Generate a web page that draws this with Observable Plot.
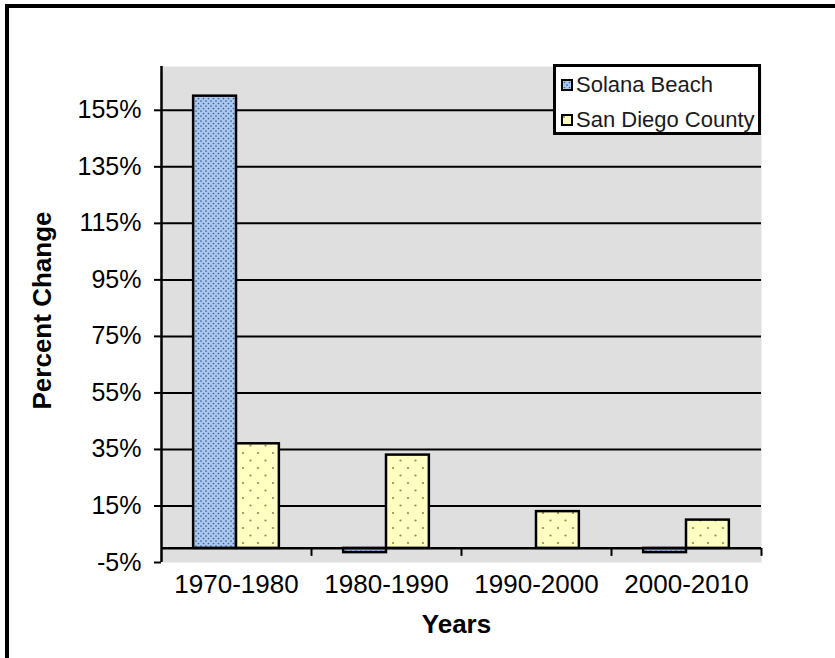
<!DOCTYPE html>
<html>
<head>
<meta charset="utf-8">
<script src="https://cdn.jsdelivr.net/npm/d3@7"></script>
<script src="https://cdn.jsdelivr.net/npm/@observablehq/plot@0.6"></script>
<style>
  html, body { margin: 0; padding: 0; background: #fff; overflow: hidden; }
  body { width: 835px; height: 658px; position: relative; font-family: "Liberation Sans", Arial, sans-serif; }
  #frame { position: absolute; left: 5px; top: 4px; width: 900px; height: 720px;
           border-top: 4px solid #000; border-left: 4px solid #000; box-sizing: border-box; }
  #chart { position: absolute; left: 0; top: 0; }
  #legend { position: absolute; left: 553px; top: 64px; width: 208px; height: 71px;
            box-sizing: border-box; border: 3px solid #000; background: #fff; }
  .item { position: absolute; left: 5px; display: flex; align-items: center; font-size: 22px; color: #1a1a1a; white-space: nowrap; }
  .item svg { margin-right: 3px; }
</style>
</head>
<body>
<div id="frame"></div>
<div id="chart"></div>
<div id="legend"></div>
<script>
// Population change per decade, in percent
const periods = ["1970-1980", "1980-1990", "1990-2000", "2000-2010"];
const seriesNames = ["Solana Beach", "San Diego County"];
const solanaBeach = [160, -1.5, 0, -1.5];
const sanDiegoCounty = [37, 33, 13, 10];
const yTicks = [-5, 15, 35, 55, 75, 95, 115, 135, 155];

const W = 835, H = 658;
const margin = {top: 66, right: 74, bottom: 96, left: 161};
const yDomain = [-5, 170.5];
const step = (W - margin.left - margin.right) / periods.length;
const barW = step / 3.5;            // two bars plus a 150% gap
const zeroOffset = (0 - yDomain[0]) / (yDomain[1] - yDomain[0]) * (H - margin.top - margin.bottom);

const rows = (values) => periods.map((p, i) => ({period: p, value: values[i]})).filter(d => d.value !== 0);

const chart = Plot.plot({
  width: W,
  height: H,
  marginTop: margin.top,
  marginRight: margin.right,
  marginBottom: margin.bottom,
  marginLeft: margin.left,
  style: {fontFamily: "'Liberation Sans', Arial, sans-serif", color: "#000", background: "transparent"},
  x: {domain: periods, padding: 0, label: null},
  y: {domain: yDomain, label: null},
  marks: [
    Plot.frame({fill: "#dfdfdf", stroke: null}),
    Plot.ruleY(yTicks.filter(t => t > 0), {stroke: "#000", strokeWidth: 2}),
    Plot.barY(rows(solanaBeach), {x: "period", y: "value", fill: "url(#dotsBlue)", stroke: "#000", strokeWidth: 2.5,
      insetLeft: 0.75 * barW, insetRight: 1.75 * barW}),
    Plot.barY(rows(sanDiegoCounty), {x: "period", y: "value", fill: "url(#dotsYellow)", stroke: "#000", strokeWidth: 2.5,
      insetLeft: 1.75 * barW, insetRight: 0.75 * barW}),
    Plot.ruleY([0], {stroke: "#000", strokeWidth: 2.5}),
    Plot.ruleX([periods[0]], {dx: -step / 2, stroke: "#000", strokeWidth: 2.5}),
    Plot.axisY({ticks: yTicks, tickFormat: d => d + "%", tickSize: 7, tickPadding: 13, fontSize: 25, strokeWidth: 2, label: null}),
    Plot.axisX({tickSize: 0, tickPadding: 12, fontSize: 26, label: null}),
    Plot.axisX({tickSize: 8, tickFormat: () => "", dx: step / 2, dy: -zeroOffset, strokeWidth: 2, label: null}),
    Plot.text(["Years"], {text: d => d, frameAnchor: "bottom", textAnchor: "middle", dx: -5, dy: 70, fontSize: 26, fontWeight: "bold"}),
    Plot.text(["Percent Change"], {text: d => d, frameAnchor: "left", textAnchor: "middle", dx: -119, dy: -4, rotate: -90, fontSize: 26, fontWeight: "bold"})
  ]
});

// Dot fill patterns for the two series
const defs = d3.select(chart).insert("defs", ":first-child");
const blue = defs.append("pattern").attr("id", "dotsBlue").attr("patternUnits", "userSpaceOnUse")
  .attr("width", 5).attr("height", 5);
blue.append("rect").attr("width", 5).attr("height", 5).attr("fill", "#abc8f0");
blue.append("circle").attr("cx", 1).attr("cy", 1).attr("r", 0.85).attr("fill", "#3d5c8e");
blue.append("circle").attr("cx", 3.5).attr("cy", 3.5).attr("r", 0.85).attr("fill", "#3d5c8e");
const yellow = defs.append("pattern").attr("id", "dotsYellow").attr("patternUnits", "userSpaceOnUse")
  .attr("width", 15).attr("height", 15);
yellow.append("rect").attr("width", 15).attr("height", 15).attr("fill", "#ffffc2");
yellow.append("circle").attr("cx", 3).attr("cy", 3).attr("r", 1.1).attr("fill", "#8c8c5c");
yellow.append("circle").attr("cx", 10.5).attr("cy", 10.5).attr("r", 1.1).attr("fill", "#8c8c5c");

document.getElementById("chart").append(chart);

// Legend
const legend = d3.select("#legend");
const swatchFills = ["url(#dotsBlue)", "url(#dotsYellow)"];
seriesNames.forEach((name, i) => {
  const item = legend.append("div").attr("class", "item").style("top", (i === 0 ? 5 : 40) + "px");
  const sw = item.append("svg").attr("width", 12).attr("height", 12);
  sw.append("rect").attr("x", 1).attr("y", 1).attr("width", 10).attr("height", 10)
    .attr("fill", swatchFills[i]).attr("stroke", "#000").attr("stroke-width", 2);
  item.append("span").text(name);
});
</script>
</body>
</html>
